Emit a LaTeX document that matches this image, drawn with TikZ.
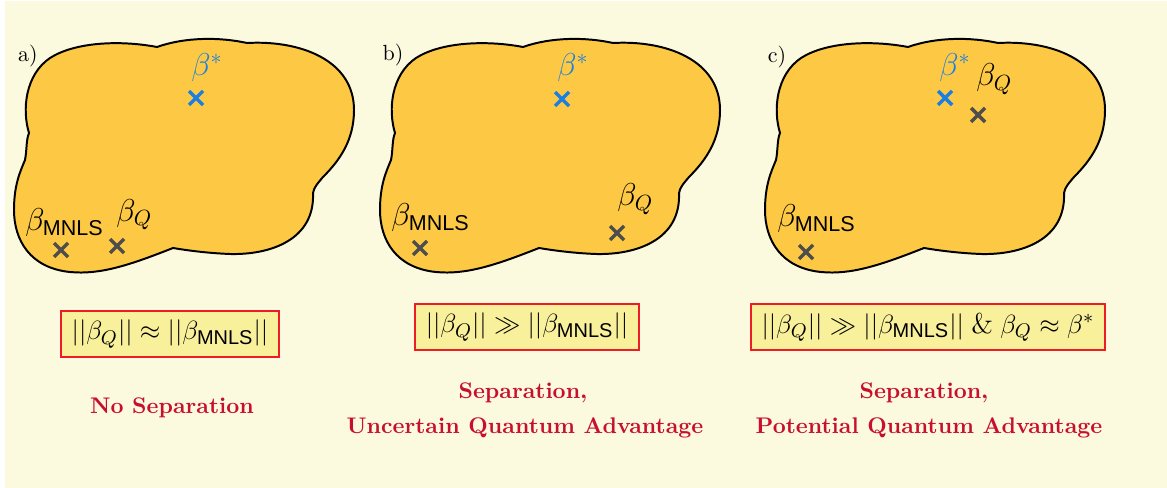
\documentclass[tikz,border=0pt]{standalone}
\usepackage{amsmath}
\usepackage{fontspec}
\setsansfont{Liberation Sans}
\definecolor{bgc}{HTML}{FCFADE}
\definecolor{blobc}{HTML}{FDC944}
\definecolor{boxfill}{HTML}{F9F09C}
\definecolor{boxline}{HTML}{EE1C24}
\definecolor{redtxt}{HTML}{C8102E}
\definecolor{starblue}{HTML}{1C7FE0}
\definecolor{crossgrey}{HTML}{4D4D4D}
\newcommand{\blobpath}{(157,47) .. controls (185,37) and (220,37) .. (247,43)
  .. controls (300,40) and (354,60) .. (354,110)
  .. controls (354,140) and (340,160) .. (323,177)
  .. controls (318,183) and (314,187) .. (313,193)
  .. controls (315,240) and (270,255) .. (230,254)
  .. controls (205,253) and (185,250) .. (173,248)
  .. controls (130,265) and (100,275) .. (70,272)
  .. controls (30,268) and (14,240) .. (14,210)
  .. controls (14,185) and (20,172) .. (25,160)
  .. controls (27,150) and (26,140) .. (29,133)
  .. controls (22,110) and (25,75) .. (50,58)
  .. controls (75,42) and (120,40) .. (157,47) -- cycle}
\tikzset{
  blob/.style={fill=blobc, draw=black, line width=0.9pt},
  lab/.style={inner sep=0pt, font=\fontsize{14}{16}\selectfont},
  starlab/.style={lab, text=starblue},
  crossstar/.style={draw=starblue, line width=1.6pt},
  crossgr/.style={draw=crossgrey, line width=1.6pt},
  panel/.style={inner sep=0pt, font=\fontsize{10}{12}\selectfont},
  formula/.style={draw=boxline, fill=boxfill, line width=0.9pt, inner xsep=5pt, minimum height=0.736cm, font=\fontsize{13}{15}\selectfont},
  verdict/.style={inner sep=0pt, text=redtxt, font=\fontsize{10.3}{12}\selectfont\bfseries, anchor=base},
}
\newcommand{\xmark}[2]{\draw[#1] (#2) +(-7,-7) -- +(7,7) +(-7,7) -- +(7,-7);}
\begin{document}
\begin{tikzpicture}[x=0.016cm, y=-0.016cm]
\useasboundingbox (0,0) rectangle (1167,488);
\fill[bgc] (5,1) rectangle (1167,488);
% panel a
\draw[blob] \blobpath;
\node[panel] (pa) at (28,56) {a)};
\coordinate (aS) at (196,98);
\coordinate (aM) at (61,250);
\coordinate (aQ) at (117,246);
\xmark{crossstar}{aS}
\xmark{crossgr}{aM}
\xmark{crossgr}{aQ}
\node[starlab, anchor=base west] (aSl) at (191,76) {$\beta^*$};
\node[lab, anchor=base west] (aMl) at (25,231) {$\beta_{\textsf{MNLS}}$};
\node[lab, anchor=base west] (aQl) at (116,221) {$\beta_Q$};
\node[formula] (aF) at (170,334) {$||\beta_Q||\approx||\beta_{\textsf{MNLS}}||$};
\node[verdict] (aV) at (172,413) {No Separation};
% panel b
\begin{scope}[shift={(366,0)}]
\draw[blob] \blobpath;
\end{scope}
\node[panel] (pb) at (393,55) {b)};
\coordinate (bS) at (562,99);
\coordinate (bM) at (420,248);
\coordinate (bQ) at (617,233);
\xmark{crossstar}{bS}
\xmark{crossgr}{bM}
\xmark{crossgr}{bQ}
\node[starlab, anchor=base west] (bSl) at (557,76) {$\beta^*$};
\node[lab, anchor=base west] (bMl) at (391,226) {$\beta_{\textsf{MNLS}}$};
\node[lab, anchor=base west] (bQl) at (617,206) {$\beta_Q$};
\node[formula] (bF) at (527,327) {$||\beta_Q||\gg||\beta_{\textsf{MNLS}}||$};
\node[verdict] (bV1) at (523,398) {Separation,};
\node[verdict] (bV2) at (525,433) {Uncertain Quantum Advantage};
% panel c
\begin{scope}[shift={(751,0)}]
\draw[blob] \blobpath;
\end{scope}
\node[panel] (pc) at (777,57) {c)};
\coordinate (cS) at (945,98);
\coordinate (cM) at (806,252);
\coordinate (cQ) at (978,115);
\xmark{crossstar}{cS}
\xmark{crossgr}{cM}
\xmark{crossgr}{cQ}
\node[starlab, anchor=base west] (cSl) at (939,76) {$\beta^*$};
\node[lab, anchor=base west] (cMl) at (777,227) {$\beta_{\textsf{MNLS}}$};
\node[lab, anchor=base west] (cQl) at (976,86) {$\beta_Q$};
\node[formula] (cF) at (928,327) {$||\beta_Q||\gg||\beta_{\textsf{MNLS}}||\;\text{\&}\;\beta_Q\approx\beta^*$};
\node[verdict] (cV1) at (924,398) {Separation,};
\node[verdict] (cV2) at (929,433) {Potential Quantum Advantage};
\end{tikzpicture}
\end{document}
